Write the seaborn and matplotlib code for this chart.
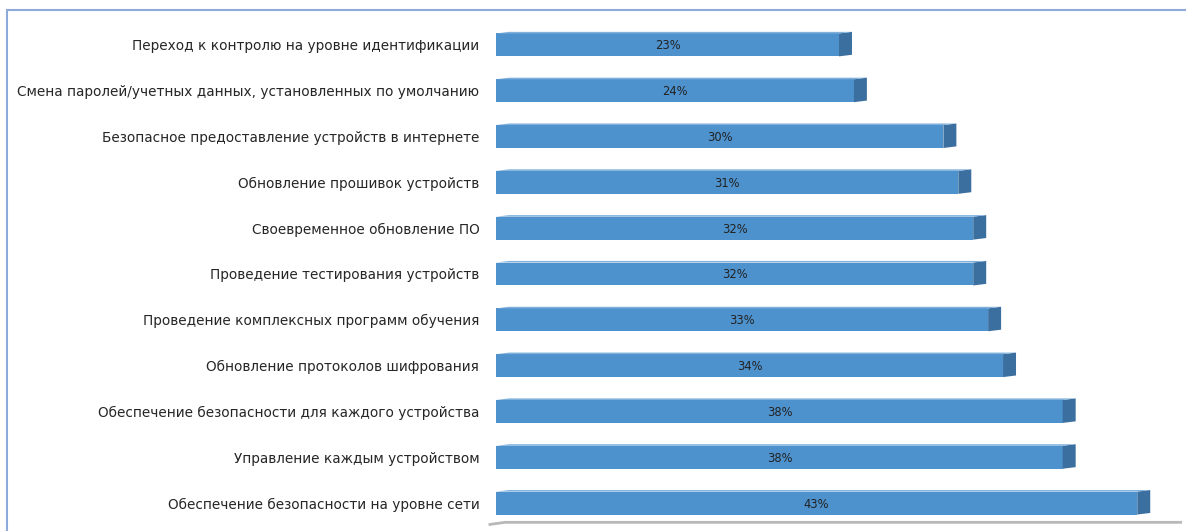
import matplotlib
matplotlib.use("Agg")
import matplotlib.pyplot as plt
import seaborn as sns
import pandas as pd
from matplotlib.patches import Polygon
from matplotlib.lines import Line2D

# Данные
categories = [
    "Переход к контролю на уровне идентификации",
    "Смена паролей/учетных данных, установленных по умолчанию",
    "Безопасное предоставление устройств в интернете",
    "Обновление прошивок устройств",
    "Своевременное обновление ПО",
    "Проведение тестирования устройств",
    "Проведение комплексных программ обучения",
    "Обновление протоколов шифрования",
    "Обеспечение безопасности для каждого устройства",
    "Управление каждым устройством",
    "Обеспечение безопасности на уровне сети",
]
values = [23, 24, 30, 31, 32, 32, 33, 34, 38, 38, 43]

df = pd.DataFrame({"category": categories, "value": values})

FRONT = "#4d91cd"
SIDE = "#3b6f9f"
TOP = "#7fb0dc"

sns.set_theme(style="white")
plt.rcParams["font.family"] = ["DejaVu Sans"]

fig = plt.figure(figsize=(11.86, 5.31), dpi=100)
ax = fig.add_axes([496 / 1186, 1 - 526 / 531, (1182 - 496) / 1186, (526 - 22) / 531])

bar_h = 0.5
sns.barplot(data=df, x="value", y="category", orient="h", color=FRONT,
            saturation=1, width=bar_h, ax=ax, edgecolor="none")

ax.set_xlim(0, 46.0)
ax.set_ylim(10.5, -0.5)

# Псевдо-3D: боковая грань и верхняя грань
dx, dy = 0.87, -0.035
for i, v in enumerate(values):
    y0, y1 = i - bar_h / 2, i + bar_h / 2
    side = Polygon([(v, y1), (v, y0), (v + dx, y0 + dy), (v + dx, y1 + dy)],
                   closed=True, facecolor=SIDE, edgecolor="none", clip_on=False)
    ax.add_patch(side)
    top = Polygon([(0, y0), (v, y0), (v + dx, y0 + dy), (dx, y0 + dy)],
                  closed=True, facecolor=TOP, edgecolor="none", clip_on=False)
    ax.add_patch(top)
    ax.text(v / 2, i + 0.02, f"{v}%", ha="center", va="center",
            fontsize=8.3, color="#222222")

# «Пол» диаграммы
ax.plot([-0.5, 0.6, 46.0], [10.47, 10.42, 10.42], color="#b8b8b8", lw=2,
        clip_on=False, solid_capstyle="butt")

ax.set_xlabel("")
ax.set_ylabel("")
ax.set_xticks([])
ax.tick_params(axis="y", length=0, pad=12, labelsize=9.8, labelcolor="#262626")
sns.despine(ax=ax, left=True, bottom=True)

# Рамка
fig.add_artist(Line2D([7 / 1186, 1], [1 - 10 / 531, 1 - 10 / 531],
                      color="#8eaadb", lw=1.5, transform=fig.transFigure))
fig.add_artist(Line2D([7 / 1186, 7 / 1186], [1 - 10 / 531, 0],
                      color="#8eaadb", lw=1.5, transform=fig.transFigure))

fig.savefig("out.png", dpi=100)
